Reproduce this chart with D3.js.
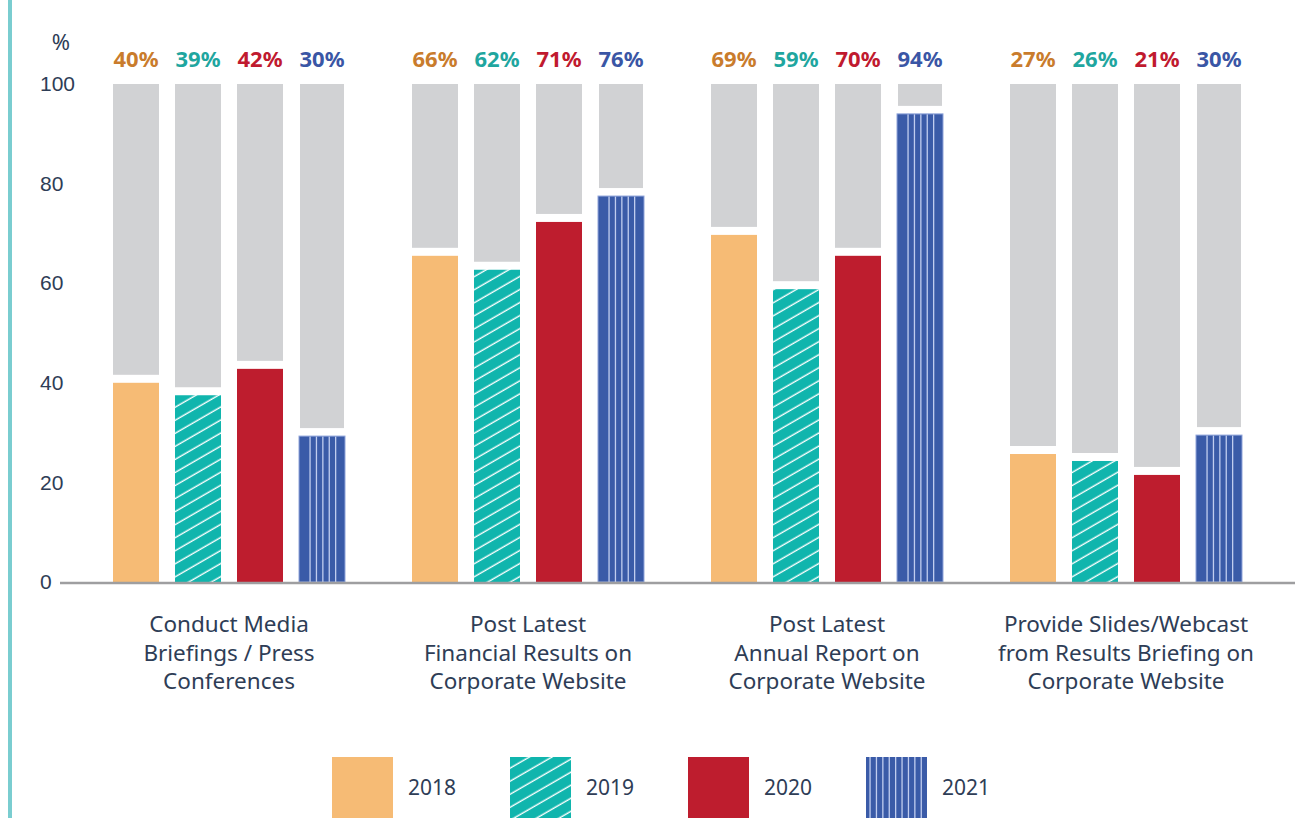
<!DOCTYPE html>
<html>
<head>
<meta charset="utf-8">
<script src="https://cdn.jsdelivr.net/npm/d3@7"></script>
<style>
  body { margin: 0; background: #fff; }
  svg { display: block; font-family: 'Noto Sans', sans-serif; }
  .tickText { fill: #2e3d56; font-size: 21px; }
  .catText { fill: #2e3d56; font-size: 22.5px; }
  .valText { font-size: 22px; font-weight: bold; }
  .legText { fill: #2e3d56; font-size: 21px; }
</style>
</head>
<body>
<div id="chart"></div>
<script>
'use strict';

// Data
const categories = [
    ['Conduct Media', 'Briefings / Press', 'Conferences'],
    ['Post Latest', 'Financial Results on', 'Corporate Website'],
    ['Post Latest', 'Annual Report on', 'Corporate Website'],
    ['Provide Slides/Webcast', 'from Results Briefing on', 'Corporate Website']
];
const years = ['2018', '2019', '2020', '2021'];
// printed labels (%)
const labelValues = [
    [40, 39, 42, 30],
    [66, 62, 71, 76],
    [69, 59, 70, 94],
    [27, 26, 21, 30]
];
// bar heights as drawn in the picture
const barValues = [
    [40, 37.5, 42.8, 29.3],
    [65.5, 62.7, 72.3, 77.5],
    [69.7, 58.8, 65.5, 94],
    [25.7, 24.3, 21.5, 29.5]
];
const yTicks = [0, 20, 40, 60, 80, 100];

// Configs
const svgW = 1295;
const svgH = 818;
const fills = {'2018': '#f6bb75', '2019': '#10b5ad', '2020': '#be1d2e', '2021': '#3a5ba8'};
const textColors = {'2018': '#c97c2c', '2019': '#1fa69f', '2020': '#c01a2f', '2021': '#3a56a5'};
const grey = '#d1d2d4';
const gap = 8;

// Scales
const yScale = d3.scaleLinear().domain([0, 100]).range([582, 84]);
const groupKeys = categories.map((c, i) => 'g' + i);
const x0 = d3.scaleBand().domain(groupKeys).range([79.5, 1275.5]);
const x1 = d3.scaleBand().domain(years)
    .range([(x0.bandwidth() - 232) / 2, (x0.bandwidth() + 232) / 2])
    .paddingInner(16 / 62);

const svg = d3.select('#chart').append('svg')
    .attr('width', svgW)
    .attr('height', svgH);

// Patterns
const defs = svg.append('defs');
const hatch = defs.append('pattern')
    .attr('id', 'hatch')
    .attr('patternUnits', 'userSpaceOnUse')
    .attr('width', 20)
    .attr('height', 11.3)
    .attr('patternTransform', 'rotate(-30)');
hatch.append('rect').attr('width', 20).attr('height', 11.3).attr('fill', fills['2019']);
hatch.append('line')
    .attr('x1', 0).attr('x2', 20).attr('y1', 5).attr('y2', 5)
    .attr('stroke', '#ffffff').attr('stroke-width', 1.4);

// Left teal rule
svg.append('rect')
    .attr('x', 8).attr('y', 0)
    .attr('width', 4).attr('height', svgH)
    .attr('fill', '#7acdd0');

// Y axis (labels are left aligned in the reference)
const yAxis = d3.axisLeft(yScale).tickValues(yTicks).tickSize(0).tickPadding(0);
const yAxisG = svg.append('g')
    .attr('transform', 'translate(40,0)')
    .call(yAxis);
yAxisG.select('.domain').remove();
yAxisG.selectAll('text')
    .attr('class', 'tickText')
    .attr('fill', null)
    .attr('font-size', null)
    .attr('font-family', null)
    .attr('text-anchor', 'start');
svg.append('text')
    .attr('class', 'tickText')
    .attr('x', 61).attr('y', 50)
    .attr('text-anchor', 'middle')
    .style('font-size', '22px')
    .text('%');

// Stripes for the 2021 series
function stripes(g, x, y, w, h, first) {
    for (let sx = x + first; sx < x + w - 5; sx += 6.4) {
        g.append('rect')
            .attr('x', sx - 0.6).attr('y', y)
            .attr('width', 1.3).attr('height', h)
            .attr('fill', '#c0cdef');
    }
}

// Bars
const groups = svg.selectAll('.group')
    .data(groupKeys)
    .join('g')
    .attr('class', 'group')
    .attr('transform', d => `translate(${x0(d)},0)`);

groups.each(function(gk, gi) {
    const g = d3.select(this);
    years.forEach((yr, yi) => {
        const v = barValues[gi][yi];
        const bx = x1(yr);
        const bw = x1.bandwidth();
        // grey remainder
        g.append('rect')
            .attr('x', yr === '2021' ? bx + 1 : bx)
            .attr('width', yr === '2021' ? bw - 2 : bw)
            .attr('y', yScale(100))
            .attr('height', yScale(v) - gap - yScale(100))
            .attr('fill', grey);
        // value bar
        g.append('rect')
            .attr('x', bx)
            .attr('width', bw)
            .attr('y', yScale(v))
            .attr('height', yScale(0) - yScale(v))
            .attr('fill', yr === '2019' ? 'url(#hatch)' : fills[yr])
            .attr('stroke', yr === '2021' ? '#8fa4da' : null)
            .attr('stroke-width', yr === '2021' ? 1 : null);
        if (yr === '2021') {
            stripes(g, bx, yScale(v) + 0.5, bw, yScale(0) - yScale(v) - 0.5, 11);
        }
        // label
        g.append('text')
            .attr('class', 'valText')
            .attr('x', bx + bw / 2)
            .attr('y', 67)
            .attr('text-anchor', 'middle')
            .attr('fill', textColors[yr])
            .text(labelValues[gi][yi] + '%');
    });

    // category label
    g.append('text')
        .attr('class', 'catText')
        .attr('text-anchor', 'middle')
        .selectAll('tspan')
        .data(categories[gi])
        .join('tspan')
        .attr('x', x0.bandwidth() / 2)
        .attr('y', (d, i) => 632 + i * 28.5)
        .text(d => d);
});

// Baseline
svg.append('line')
    .attr('x1', 60).attr('x2', svgW)
    .attr('y1', yScale(0) + 1).attr('y2', yScale(0) + 1)
    .attr('stroke', '#9e9ea0')
    .attr('stroke-width', 2.5);

// Legend
const legend = svg.append('g').attr('class', 'legend');
years.forEach((yr, i) => {
    const lx = 332 + i * 178;
    legend.append('rect')
        .attr('x', lx).attr('y', 757)
        .attr('width', 61).attr('height', 61)
        .attr('fill', yr === '2019' ? 'url(#hatch)' : fills[yr]);
    if (yr === '2021') {
        stripes(legend, lx, 757, 61, 61, 4);
    }
    legend.append('text')
        .attr('class', 'legText')
        .attr('x', lx + 76).attr('y', 795)
        .text(yr);
});
</script>
</body>
</html>
